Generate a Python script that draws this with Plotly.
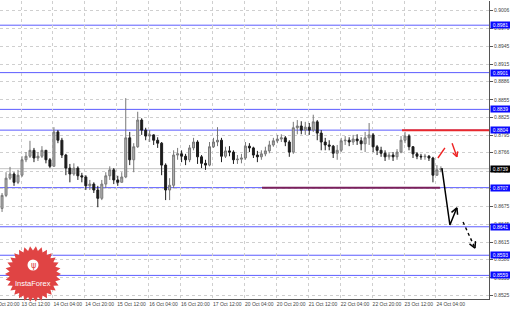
import math
import plotly.graph_objects as go

# ---------------- data ----------------
first_open = 0.8664
close = [0.8672, 0.8694, 0.8723, 0.8730, 0.8716, 0.8728, 0.8754, 0.8760, 0.8770, 0.8757,
         0.8760, 0.8770, 0.8754, 0.8743, 0.8801, 0.8787, 0.8762, 0.8740, 0.8730, 0.8740,
         0.8727, 0.8725, 0.8710, 0.8713, 0.8703, 0.8689, 0.8713, 0.8727, 0.8737, 0.8720,
         0.8716, 0.8725, 0.8791, 0.8754, 0.8776, 0.8821, 0.8804, 0.8794, 0.8796, 0.8787,
         0.8782, 0.8745, 0.8703, 0.8711, 0.8762, 0.8764, 0.8760, 0.8754, 0.8774, 0.8784,
         0.8759, 0.8748, 0.8745, 0.8776, 0.8784, 0.8787, 0.8760, 0.8769, 0.8767, 0.8754,
         0.8755, 0.8757, 0.8777, 0.8774, 0.8762, 0.8759, 0.8764, 0.8769, 0.8779, 0.8786,
         0.8789, 0.8791, 0.8784, 0.8767, 0.8808, 0.8811, 0.8804, 0.8809, 0.8804, 0.8818,
         0.8799, 0.8784, 0.8779, 0.8777, 0.8765, 0.8770, 0.8786, 0.8787, 0.8784, 0.8789,
         0.8786, 0.8781, 0.8791, 0.8796, 0.8776, 0.8770, 0.8765, 0.8759, 0.8762, 0.8759,
         0.8767, 0.8787, 0.8794, 0.8776, 0.8764, 0.8760, 0.8759, 0.8760, 0.8757, 0.8728,
         0.8737, 0.8739]
high = [0.8681, 0.8698, 0.8733, 0.8742, 0.8733, 0.8737, 0.8760, 0.8767, 0.8786, 0.8774,
        0.8767, 0.8777, 0.8770, 0.8757, 0.8809, 0.8804, 0.8791, 0.8764, 0.8747, 0.8748,
        0.8743, 0.8732, 0.8728, 0.8720, 0.8716, 0.8710, 0.8720, 0.8733, 0.8743, 0.8740,
        0.8727, 0.8733, 0.8858, 0.8801, 0.8782, 0.8835, 0.8824, 0.8808, 0.8804, 0.8797,
        0.8792, 0.8784, 0.8748, 0.8723, 0.8770, 0.8774, 0.8770, 0.8764, 0.8779, 0.8791,
        0.8787, 0.8762, 0.8754, 0.8784, 0.8791, 0.8809, 0.8791, 0.8776, 0.8777, 0.8770,
        0.8762, 0.8764, 0.8784, 0.8782, 0.8776, 0.8769, 0.8770, 0.8776, 0.8786, 0.8791,
        0.8796, 0.8797, 0.8794, 0.8787, 0.8818, 0.8821, 0.8819, 0.8818, 0.8816, 0.8830,
        0.8821, 0.8804, 0.8791, 0.8787, 0.8779, 0.8779, 0.8791, 0.8794, 0.8792, 0.8796,
        0.8797, 0.8792, 0.8801, 0.8816, 0.8799, 0.8779, 0.8776, 0.8770, 0.8767, 0.8767,
        0.8772, 0.8794, 0.8801, 0.8797, 0.8777, 0.8767, 0.8764, 0.8764, 0.8762, 0.8759,
        0.8745, 0.8743]
low = [0.8652, 0.8666, 0.8691, 0.8720, 0.8710, 0.8713, 0.8725, 0.8750, 0.8757, 0.8750,
       0.8752, 0.8757, 0.8748, 0.8740, 0.8743, 0.8782, 0.8757, 0.8728, 0.8716, 0.8727,
       0.8720, 0.8716, 0.8703, 0.8703, 0.8698, 0.8674, 0.8686, 0.8706, 0.8720, 0.8713,
       0.8710, 0.8716, 0.8723, 0.8745, 0.8733, 0.8774, 0.8796, 0.8787, 0.8784, 0.8779,
       0.8774, 0.8728, 0.8686, 0.8686, 0.8706, 0.8754, 0.8750, 0.8745, 0.8750, 0.8770,
       0.8747, 0.8740, 0.8737, 0.8743, 0.8774, 0.8777, 0.8750, 0.8757, 0.8760, 0.8747,
       0.8747, 0.8748, 0.8754, 0.8767, 0.8757, 0.8750, 0.8754, 0.8760, 0.8765, 0.8776,
       0.8782, 0.8784, 0.8777, 0.8759, 0.8764, 0.8797, 0.8797, 0.8796, 0.8796, 0.8801,
       0.8787, 0.8770, 0.8770, 0.8770, 0.8757, 0.8754, 0.8767, 0.8779, 0.8777, 0.8779,
       0.8779, 0.8770, 0.8767, 0.8779, 0.8767, 0.8762, 0.8759, 0.8752, 0.8754, 0.8752,
       0.8754, 0.8765, 0.8782, 0.8770, 0.8757, 0.8755, 0.8754, 0.8754, 0.8752, 0.8716,
       0.8727, 0.8733]
open_ = [first_open] + close[:-1]
bar_hours = [2 * k + 0.5 for k in range(len(close))]   # 2-hour bars, trading-hour index

tick_hours = [12, 28, 44, 60, 76, 92, 108, 124, 140, 156, 172, 188, 204, 220]
tick_labels = ["13 Oct 12:00", "14 Oct 04:00", "14 Oct 20:00", "15 Oct 12:00",
               "16 Oct 04:00", "16 Oct 20:00", "17 Oct 12:00", "20 Oct 04:00",
               "20 Oct 20:00", "21 Oct 12:00", "22 Oct 04:00", "22 Oct 20:00",
               "23 Oct 12:00", "24 Oct 04:00"]
first_label = "12 Oct 20:00"

price_ticks = [0.9006, 0.8976, 0.8945, 0.8915, 0.8886, 0.8855, 0.8825, 0.8795, 0.8766,
               0.8735, 0.8705, 0.8675, 0.8645, 0.8615, 0.8586, 0.8555, 0.8525]

levels = [0.8981, 0.8901, 0.8839, 0.8804, 0.8707, 0.8641, 0.8593, 0.8559]
last_price = 0.8739

support_seg = {"h": [132.8, 222.0], "p": 0.8707}
resist_seg = {"h": [203.0, 246.6], "p": 0.8804}

fc_solid_h = [223.0, 227.0, 230.5]
fc_solid_p = [0.8740, 0.8644, 0.8673]
fc_dash_h = [233.6, 239.6]
fc_dash_p = [0.8649, 0.8605]
red_up_h = [221.0, 224.5]
red_up_p = [0.8757, 0.8774]
red_arrow_h = [228.1, 230.5]
red_arrow_p = [0.8782, 0.8759]

# ---------------- layout geometry ----------------
W, H = 510, 309
ML, MR, MT, MB = 0, 21, 1, 10
PW, PH = W - ML - MR, H - MT - MB
XR = [1.47, 246.6]
YR = [0.85192, 0.90218]
SX = PW / (XR[1] - XR[0])
SY = PH / (YR[1] - YR[0])
FONT = "Liberation Sans"

fig = go.Figure()

fig.add_trace(go.Candlestick(
    x=bar_hours, open=open_, high=high, low=low, close=close,
    increasing=dict(line=dict(color="#777777", width=1), fillcolor="#b4b4b4"),
    decreasing=dict(line=dict(color="#1c1c1c", width=1), fillcolor="#1c1c1c"),
    whiskerwidth=0, hoverinfo="skip", showlegend=False))

shapes = []
for lv in levels:
    shapes.append(dict(type="line", xref="paper", x0=0, x1=1, yref="y", y0=lv, y1=lv,
                       line=dict(color="#5c5cff", width=1), layer="below"))
shapes.append(dict(type="line", xref="paper", x0=0, x1=1, yref="y", y0=last_price, y1=last_price,
                   line=dict(color="#c4c4c4", width=1), layer="below"))
shapes.append(dict(type="line", xref="x", x0=support_seg["h"][0], x1=support_seg["h"][1],
                   yref="y", y0=support_seg["p"], y1=support_seg["p"],
                   line=dict(color="#7a1f5c", width=2)))
shapes.append(dict(type="line", xref="x", x0=resist_seg["h"][0], x1=resist_seg["h"][1],
                   yref="y", y0=resist_seg["p"], y1=resist_seg["p"],
                   line=dict(color="#e8282c", width=2)))


def arms(tip_h, tip_p, tail_h, tail_p, length=6.5, ang=28):
    dx = (tip_h - tail_h) * SX
    dy = -(tip_p - tail_p) * SY
    n = math.hypot(dx, dy)
    ux, uy = -dx / n, -dy / n
    out = []
    for s in (1, -1):
        a = math.radians(ang) * s
        ex = ux * math.cos(a) - uy * math.sin(a)
        ey = ux * math.sin(a) + uy * math.cos(a)
        out.append((tip_h + ex * length / SX, tip_p - ey * length / SY))
    return out


def add_path(hs, ps, color, width, dash="solid"):
    fig.add_trace(go.Scatter(x=hs, y=ps, mode="lines", line=dict(color=color, width=width, dash=dash),
                             hoverinfo="skip", showlegend=False))


def add_head(hs, ps, color, width, length=6.5):
    for (ah, ap) in arms(hs[-1], ps[-1], hs[-2], ps[-2], length):
        add_path([hs[-1], ah], [ps[-1], ap], color, width)


add_path(fc_solid_h, fc_solid_p, "#000000", 1.5)
add_head(fc_solid_h, fc_solid_p, "#000000", 1.5, 7)
add_path(fc_dash_h, fc_dash_p, "#000000", 1.4, "3px,3px")
add_head(fc_dash_h, fc_dash_p, "#000000", 1.4, 7)
add_path(red_up_h, red_up_p, "#ee2222", 1.4)
add_path(red_arrow_h, red_arrow_p, "#ee2222", 1.4)
add_head(red_arrow_h, red_arrow_p, "#ee2222", 1.4, 5.5)


def to_paper(px, py):
    return (px - ML) / PW, 1 - (py - MT) / PH


# InstaForex badge
cx, cy, ro, ri, n = 33, 274, 28, 23.5, 30
pts = []
for i in range(2 * n):
    r = ro if i % 2 == 0 else ri
    a = math.pi * i / n
    pts.append(to_paper(cx + r * math.cos(a), cy + r * math.sin(a)))
path = "M " + " L ".join(f"{x:.5f},{y:.5f}" for x, y in pts) + " Z"
shapes.append(dict(type="path", xref="paper", yref="paper", path=path,
                   fillcolor="#e04444", line=dict(width=0), layer="above"))
ix0, iy0 = to_paper(cx - 5.5, 265 - 5.5)
ix1, iy1 = to_paper(cx + 5.5, 265 + 5.5)
shapes.append(dict(type="circle", xref="paper", yref="paper", x0=ix0, x1=ix1, y0=iy0, y1=iy1,
                   fillcolor="#ffffff", line=dict(width=0), layer="above"))

annotations = []
tx, ty = to_paper(cx, 283)
annotations.append(dict(xref="paper", yref="paper", x=tx, y=ty, text="InstaForex", showarrow=False,
                        xanchor="center", yanchor="middle",
                        font=dict(family=FONT, size=7.5, color="#ffffff")))
gx, gy = to_paper(cx, 265)
annotations.append(dict(xref="paper", yref="paper", x=gx, y=gy, text="ψ", showarrow=False,
                        xanchor="center", yanchor="middle",
                        font=dict(family="DejaVu Sans", size=8, color="#e04444")))
fx, fy = to_paper(-11, 304)
annotations.append(dict(xref="paper", yref="paper", x=fx, y=fy, text=first_label, showarrow=False,
                        xanchor="left", yanchor="middle", font=dict(family=FONT, size=5, color="#444444")))
for lv in levels:
    annotations.append(dict(xref="paper", x=1, xanchor="left", xshift=1, yref="y", y=lv,
                            text=f"{lv:.4f}", showarrow=False, bgcolor="#0a0aff", borderpad=0,
                            width=19, height=6, font=dict(family=FONT, size=5, color="#ffffff")))
annotations.append(dict(xref="paper", x=1, xanchor="left", xshift=1, yref="y", y=last_price,
                        text=f"{last_price:.4f}", showarrow=False, bgcolor="#000000", borderpad=0,
                        width=19, height=6, font=dict(family=FONT, size=5, color="#ffffff")))

fig.update_layout(
    width=W, height=H, margin=dict(l=ML, r=MR, t=MT, b=MB),
    paper_bgcolor="#ffffff", plot_bgcolor="#ffffff",
    shapes=shapes, annotations=annotations, showlegend=False,
    xaxis=dict(range=XR, tickvals=tick_hours, ticktext=tick_labels, ticklabelposition="outside right",
               tickangle=0, tickfont=dict(family=FONT, size=5, color="#444444"), ticks="",
               showgrid=True, gridcolor="#cfcfcf", griddash="dot", gridwidth=1, showline=True,
               linecolor="#555555", linewidth=1, zeroline=False, rangeslider=dict(visible=False),
               automargin=False, fixedrange=True),
    yaxis=dict(range=YR, side="right", tickvals=price_ticks, ticktext=[f"{v:.4f}" for v in price_ticks],
               tickfont=dict(family=FONT, size=5, color="#444444"), ticks="outside", ticklen=3,
               tickcolor="#555555", showgrid=True, gridcolor="#cfcfcf", griddash="dot", gridwidth=1,
               showline=True, linecolor="#555555", linewidth=1, zeroline=False, automargin=False,
               fixedrange=True),
)

fig.write_html("out.html", config={"displayModeBar": False})
